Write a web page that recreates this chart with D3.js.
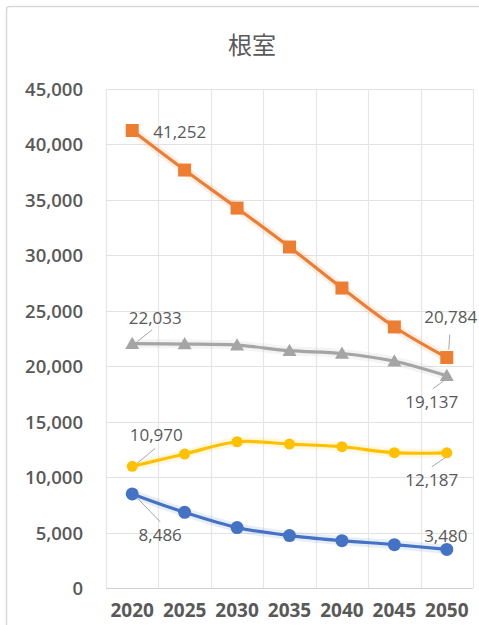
<!DOCTYPE html>
<html><head><meta charset="utf-8">
<script src="https://cdn.jsdelivr.net/npm/d3@7"></script>
<style>
html,body{margin:0;padding:0;background:#fff;}
svg{display:block;}
</style></head>
<body>
<svg id="chart" width="479" height="625"></svg>
<script>
const title = "根室";
const years = ["2020","2025","2030","2035","2040","2045","2050"];
const yTicks = [0,5000,10000,15000,20000,25000,30000,35000,40000,45000];
const seriesOrange = [41252, 37690, 34260, 30750, 27050, 23540, 20784];
const seriesGray   = [22033, 22000, 21900, 21400, 21150, 20450, 19137];
const seriesYellow = [10970, 12080, 13190, 12980, 12740, 12200, 12187];
const seriesBlue   = [8486, 6820, 5450, 4730, 4270, 3910, 3480];

const svg = d3.select("#chart");
const plot = {left:106, right:473, top:89, bottom:588};
const x = d3.scaleBand().domain(years).range([plot.left, plot.right]).padding(0);
const y = d3.scaleLinear().domain([0,45000]).range([plot.bottom, plot.top]);
const cx = d => x(d) + x.bandwidth()/2;
const fmt = d3.format(",");

// chart border
svg.append("rect").attr("x",6.5).attr("y",6.5).attr("width",490).attr("height",640)
  .attr("rx",3).attr("fill","#fff").attr("stroke","#d9d9d9").attr("stroke-width",1.5);

// title
svg.append("text").attr("x",252).attr("y",54).attr("text-anchor","middle")
  .attr("font-family","'Noto Sans CJK JP', sans-serif").attr("font-size",24)
  .attr("fill","#595959").text(title);

// horizontal gridlines
svg.append("g").selectAll("line").data(yTicks).join("line")
  .attr("x1",plot.left).attr("x2",plot.right)
  .attr("y1",d=>Math.round(y(d))+0.5).attr("y2",d=>Math.round(y(d))+0.5)
  .attr("stroke",d=>d===0?"#d0d0d0":"#e2e2e2").attr("stroke-width",1.2);
// vertical gridlines
const vb = years.map(d=>x(d)).concat([plot.right]);
svg.append("g").selectAll("line").data(vb).join("line")
  .attr("x1",d=>Math.round(d)+0.5).attr("x2",d=>Math.round(d)+0.5)
  .attr("y1",plot.top).attr("y2",plot.bottom)
  .attr("stroke","#e6e6e6").attr("stroke-width",1.2);

// y axis labels
const yAxis = d3.axisLeft(y).tickValues(yTicks).tickFormat(fmt).tickSize(0).tickPadding(0);
const gy = svg.append("g").attr("transform",`translate(83,0)`).call(yAxis);
gy.select(".domain").remove();
gy.selectAll("text").attr("font-family","'Open Sans', sans-serif").attr("font-size",18.5)
  .attr("font-weight",600).attr("fill","#595959").attr("dy","0.35em");

// x axis labels
const xAxis = d3.axisBottom(x).tickSize(0).tickPadding(0);
const gx = svg.append("g").attr("transform",`translate(0,${plot.bottom})`).call(xAxis);
gx.select(".domain").remove();
gx.selectAll("text").attr("font-family","'Open Sans', sans-serif").attr("font-size",19)
  .attr("font-weight",700).attr("fill","#595959").attr("y",22).attr("dy","0.35em");

const line = d3.line().x((d,i)=>cx(years[i])).y(d=>y(d)).curve(d3.curveCatmullRom.alpha(0.5));

const series = [
  {vals: seriesOrange, color:"#ED7D31", marker:"square", size:13},
  {vals: seriesGray,   color:"#A5A5A5", marker:"triangle", size:14},
  {vals: seriesYellow, color:"#FFC000", marker:"circle", size:11},
  {vals: seriesBlue,   color:"#4472C4", marker:"circle", size:13}
];

series.forEach(s=>{
  const g = svg.append("g");
  g.append("path").attr("d",line(s.vals)).attr("fill","none").attr("stroke",s.color)
    .attr("stroke-width",9).attr("stroke-opacity",0.12).attr("stroke-linecap","round");
  g.append("path").attr("d",line(s.vals)).attr("fill","none").attr("stroke",s.color)
    .attr("stroke-width",3.2).attr("stroke-linejoin","round").attr("stroke-linecap","round");
  const m = g.selectAll(".m").data(s.vals).join(s.marker==="circle"?"circle":"path");
  if(s.marker==="circle"){
    m.attr("cx",(d,i)=>cx(years[i])).attr("cy",d=>y(d)).attr("r",s.size/2).attr("fill",s.color);
  } else if(s.marker==="square"){
    m.attr("d",(d,i)=>{const X=cx(years[i]),Y=y(d),h=s.size/2;return `M${X-h},${Y-h}h${s.size}v${s.size}h${-s.size}Z`;})
     .attr("fill",s.color);
  } else {
    m.attr("d",(d,i)=>{const X=cx(years[i]),Y=y(d),h=s.size/2;return `M${X},${Y-h}L${X+h},${Y+h*0.75}L${X-h},${Y+h*0.75}Z`;})
     .attr("fill",s.color);
  }
});

// data labels (layout offsets relative to the point; leader lines)
const labelLayout = [
  {s:0, i:0, dx:21, dy:1, anchor:"start", lead:null},
  {s:0, i:6, dx:4, dy:-40, anchor:"middle", lead:[3,-23,2,-8]},
  {s:1, i:0, dx:23, dy:-26, anchor:"middle", lead:[20,-14,5,-2]},
  {s:1, i:6, dx:-15, dy:26, anchor:"middle", lead:[-14,13,-3,5]},
  {s:2, i:0, dx:24, dy:-31, anchor:"middle", lead:[23,-18,5,-3]},
  {s:2, i:6, dx:-15, dy:27, anchor:"middle", lead:[-15,14,-2,5]},
  {s:3, i:0, dx:28, dy:41, anchor:"middle", lead:[28,28,5,4]},
  {s:3, i:6, dx:-1, dy:-13, anchor:"middle", lead:null}
];
const lg = svg.append("g");
labelLayout.forEach(L=>{
  const v = series[L.s].vals[L.i];
  const X = cx(years[L.i]), Y = y(v);
  if(L.lead){
    lg.append("line").attr("x1",X+L.lead[0]).attr("y1",Y+L.lead[1]).attr("x2",X+L.lead[2]).attr("y2",Y+L.lead[3])
      .attr("stroke","#a6a6a6").attr("stroke-width",1);
  }
  lg.append("text").attr("x",X+L.dx).attr("y",Y+L.dy).attr("dy","0.35em")
    .attr("text-anchor",L.anchor).attr("font-family","'Open Sans', sans-serif")
    .attr("font-size",17).attr("fill","#595959").text(fmt(v));
});
</script>
</body></html>
